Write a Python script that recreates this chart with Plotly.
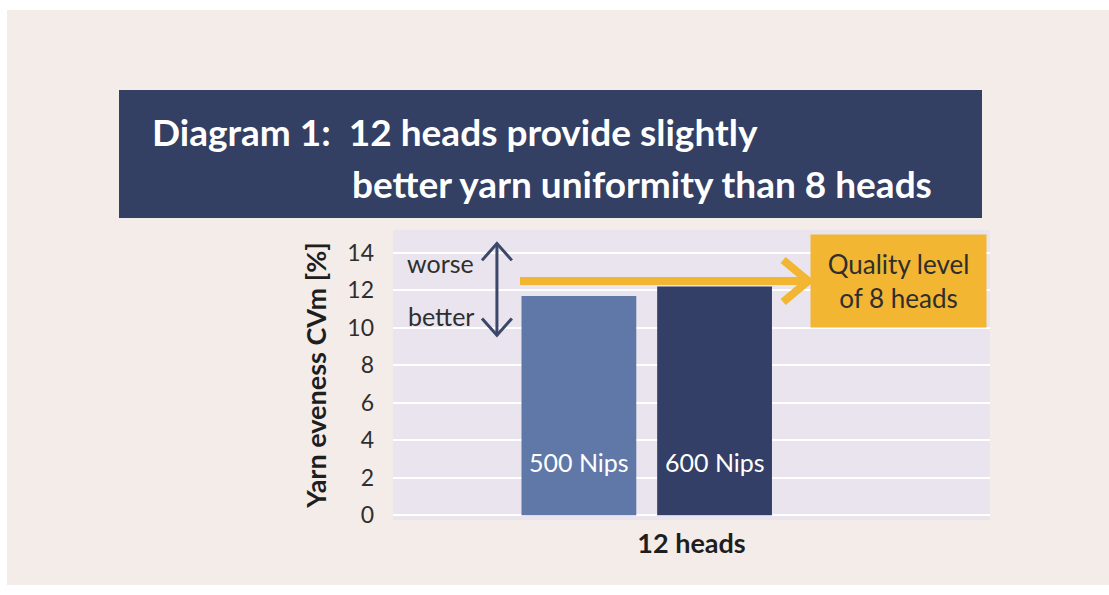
import plotly.graph_objects as go

categories = ["500 Nips", "600 Nips"]
values = [11.7, 12.2]
bar_colors = ["#5f78a8", "#333f66"]
y_ticks = [0, 2, 4, 6, 8, 10, 12, 14]
quality_level_8_heads = 12.5
worse_better_span = [9.6, 14.5]
title_lines = ["Diagram 1:  12 heads provide slightly", "better yarn uniformity than 8 heads"]
y_title = "Yarn eveness CVm [%]"
x_title = "12 heads"

FONT = "Lato"
NAVY = "#333f63"
ORANGE = "#f2b632"
ARROW = "#3c4769"
TXT = "#2e2e2e"

W, H = 1109, 595
L, R, T, B = 393, 990, 230, 520
XR = [-1.37, 3.03]
YR = [-0.25, 15.22]


def px(xp):
    return (xp - L) / (R - L)


def py(yp):
    return (B - yp) / (B - T)


xs = list(range(len(categories)))

fig = go.Figure()
fig.add_trace(go.Bar(
    x=xs, y=values, marker=dict(color=bar_colors, line=dict(width=0)),
    width=0.846, hoverinfo="skip", showlegend=False,
))

# quality-level arrow (orange): shaft + chevron head
q = quality_level_8_heads
tip = 1.69
fig.add_trace(go.Scatter(
    x=[-0.434, tip, None, tip - 0.185, tip, tip - 0.185],
    y=[q, q, None, q + 1.12, q, q - 1.12],
    mode="lines", line=dict(color=ORANGE, width=8), hoverinfo="skip", showlegend=False,
))

# worse / better double arrow
ax0 = -0.604
lo, hi = worse_better_span
fig.add_trace(go.Scatter(
    x=[ax0, ax0, None, ax0 - 0.11, ax0, ax0 + 0.11, None, ax0 - 0.11, ax0, ax0 + 0.11],
    y=[lo, hi, None, hi - 0.9, hi, hi - 0.9, None, lo + 0.9, lo, lo + 0.9],
    mode="lines", line=dict(color=ARROW, width=3), hoverinfo="skip", showlegend=False,
))
fig.add_annotation(x=-0.76, y=13.45, xref="x", yref="y", xanchor="right", yanchor="middle",
                   text="worse", showarrow=False, font=dict(family=FONT, size=25, color=TXT))
fig.add_annotation(x=-0.76, y=10.64, xref="x", yref="y", xanchor="right", yanchor="middle",
                   text="better", showarrow=False, font=dict(family=FONT, size=25, color=TXT))

# quality box
fig.add_annotation(
    x=px(987), xref="paper", xanchor="right", y=q, yref="y", yanchor="middle",
    text="Quality level<br>of 8 heads", showarrow=False, align="center",
    font=dict(family=FONT, size=26, color=TXT), bgcolor=ORANGE,
    width=169, height=86, borderpad=3,
)

# bar labels
for i, c in enumerate(categories):
    fig.add_annotation(x=xs[i], y=2.85, xref="x", yref="y", text=c, showarrow=False,
                       font=dict(family=FONT, size=25, color="white"))

# white page edges
for x0, x1, y0, y1 in [(0, 7, 0, H), (0, W, 0, 10), (0, W, 585, H)]:
    fig.add_shape(type="rect", xref="paper", yref="paper",
                  x0=px(x0), x1=px(x1), y0=py(y1), y1=py(y0),
                  fillcolor="white", line=dict(width=0), layer="below")

# title banner
fig.add_shape(type="rect", xref="paper", yref="paper",
              x0=px(119), x1=px(982), y0=py(218), y1=py(90),
              fillcolor=NAVY, line=dict(width=0), layer="below")
fig.add_annotation(xref="paper", yref="paper", x=px(150), y=py(131),
                   xanchor="left", yanchor="middle", text="<b>" + title_lines[0] + "</b>",
                   showarrow=False, font=dict(family=FONT, size=37, color="white"))
fig.add_annotation(xref="paper", yref="paper", x=px(350), y=py(184),
                   xanchor="left", yanchor="middle", text="<b>" + title_lines[1] + "</b>",
                   showarrow=False, font=dict(family=FONT, size=37, color="white"))

fig.update_layout(
    width=W, height=H,
    margin=dict(l=L, r=W - R, t=T, b=H - B),
    paper_bgcolor="#f4ece9", plot_bgcolor="#e9e4ee",
    font=dict(family=FONT, color=TXT),
    xaxis=dict(type="linear", range=XR, showticklabels=False, showgrid=False, zeroline=False,
               title=dict(text="<b>" + x_title + "</b>", font=dict(size=27, color="#1e1e1e"), standoff=14),
               fixedrange=True),
    yaxis=dict(range=YR, tickvals=y_ticks, ticks="", showgrid=True, gridcolor="white",
               gridwidth=2, zeroline=False, tickfont=dict(size=23, color=TXT), ticklabelstandoff=18,
               title=dict(text="<b>" + y_title + "</b>", font=dict(size=27, color="#1e1e1e"), standoff=12),
               fixedrange=True),
)

fig.write_html("out.html", config={"displayModeBar": False},
               post_script="document.body.style.margin='0';")
